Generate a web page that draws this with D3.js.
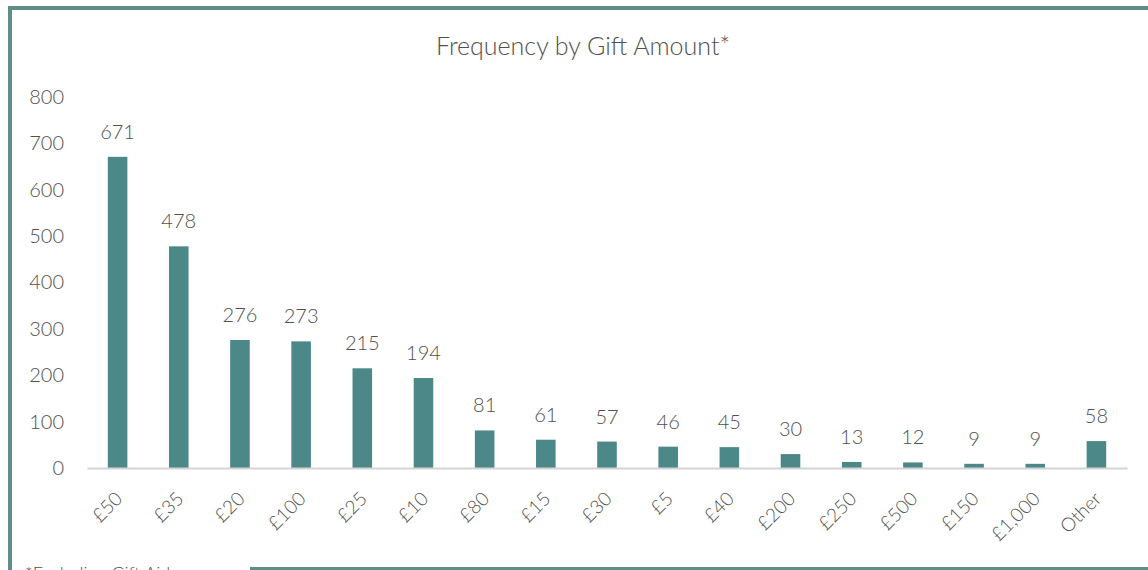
<!DOCTYPE html>
<html>
<head>
<meta charset="utf-8">
<script src="https://cdn.jsdelivr.net/npm/d3@7"></script>
<style>
  html, body { margin: 0; padding: 0; background: #fff; }
  svg { display: block; }
  text { font-family: Lato, "Open Sans", sans-serif; font-weight: 300; fill: #505050; }
</style>
</head>
<body>
<svg id="chart" width="1148" height="570"></svg>
<script>
// Gift amounts and how often each was given
const categories = ["£50", "£35", "£20", "£100", "£25", "£10", "£80", "£15", "£30", "£5", "£40", "£200", "£250", "£500", "£150", "£1,000", "Other"];
const counts = [671, 478, 276, 273, 215, 194, 81, 61, 57, 46, 45, 30, 13, 12, 9, 9, 58];
const yTicks = [0, 100, 200, 300, 400, 500, 600, 700, 800];
const titleText = "Frequency by Gift Amount*";
const footnoteText = "*Excluding Gift Aid";

const svg = d3.select("#chart");
const W = 1148, H = 570;
const frameColor = "#5d8f88";
const barColor = "#4c8888";
const textFont = "Lato, 'Open Sans', sans-serif";

// Outer frame
svg.append("rect").attr("x", 8).attr("y", 6).attr("width", W).attr("height", 4).attr("fill", frameColor);
svg.append("rect").attr("x", 8).attr("y", 6).attr("width", 4).attr("height", H).attr("fill", frameColor);
svg.append("rect").attr("x", 250).attr("y", 567).attr("width", W).attr("height", 3).attr("fill", frameColor);

const margin = { left: 87, right: 21, top: 97, bottom: 102 };
const x = d3.scaleBand().domain(categories).range([margin.left, W - margin.right]).paddingInner(0.68).paddingOuter(0.34);
const y = d3.scaleLinear().domain([0, 800]).range([H - margin.bottom, margin.top]);

// Title
svg.append("text").attr("x", 583).attr("y", 55).attr("text-anchor", "middle")
  .style("font-size", "25px").text(titleText);

// Y axis labels
const yAxis = d3.axisLeft(y).tickValues(yTicks).tickSize(0).tickPadding(0);
const gy = svg.append("g").attr("transform", "translate(64,0)").call(yAxis);
gy.select(".domain").remove();
gy.selectAll("text").style("font-size", "20px").style("fill", "#505050")
  .style("font-family", textFont).style("font-weight", 300);

// Bars
svg.append("g").selectAll("rect").data(counts).join("rect")
  .attr("x", (d, i) => x(categories[i]))
  .attr("y", d => y(d))
  .attr("width", x.bandwidth())
  .attr("height", d => y(0) - y(d))
  .attr("fill", barColor);

// Value labels
svg.append("g").selectAll("text").data(counts).join("text")
  .attr("x", (d, i) => x(categories[i]) + x.bandwidth() / 2)
  .attr("y", d => y(d) - 18)
  .attr("text-anchor", "middle")
  .style("font-size", "20px")
  .text(d => d);

// X axis
const xAxis = d3.axisBottom(x).tickSize(0).tickPadding(0);
const gx = svg.append("g").attr("transform", `translate(0,${y(0)})`).call(xAxis);
gx.select(".domain").attr("stroke", "#d4d4d4").attr("stroke-width", 2);
gx.selectAll("text")
  .style("font-size", "19px").style("fill", "#505050")
  .style("font-family", textFont).style("font-weight", 300)
  .attr("text-anchor", "end")
  .attr("dy", null).attr("y", 0).attr("x", 0)
  .attr("transform", "translate(6,32) rotate(-45)");

// Footnote (partly cut off at the bottom edge)
svg.append("text").attr("x", 25).attr("y", 580).style("font-size", "18px").text(footnoteText);
</script>
</body>
</html>
